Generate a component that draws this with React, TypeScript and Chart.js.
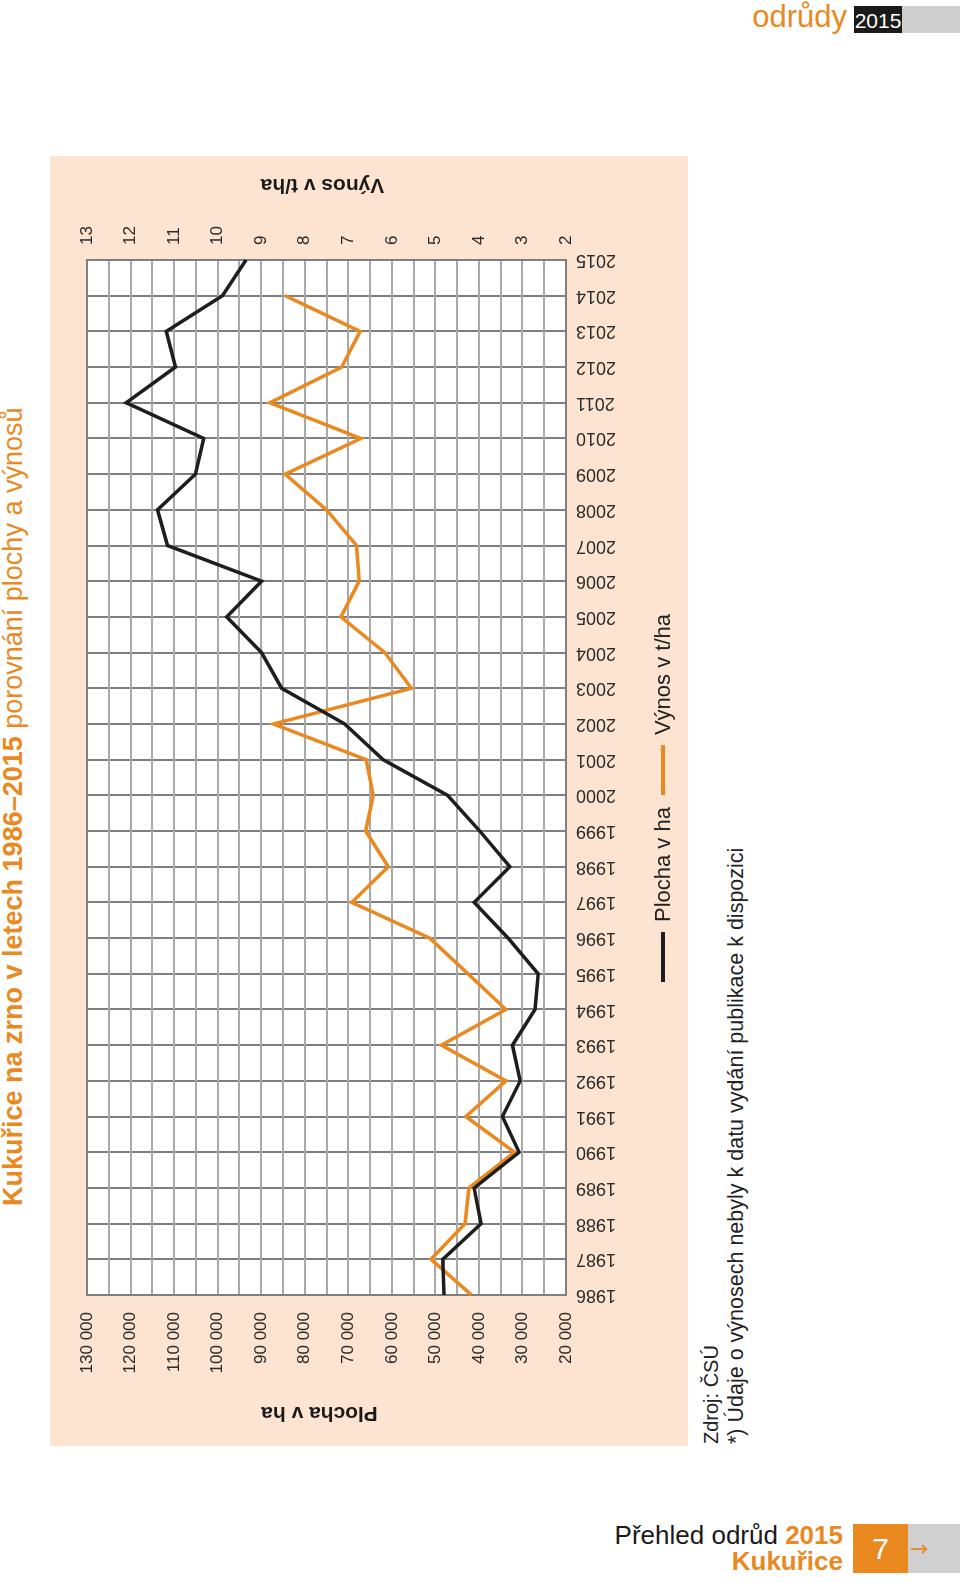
import React, { useEffect, useRef } from "react";
import { Chart, registerables } from "chart.js";

Chart.register(...registerables);

// ---- data ----
const years = [
  "1986", "1987", "1988", "1989", "1990", "1991", "1992", "1993", "1994", "1995",
  "1996", "1997", "1998", "1999", "2000", "2001", "2002", "2003", "2004", "2005",
  "2006", "2007", "2008", "2009", "2010", "2011", "2012", "2013", "2014", "2015",
];

// Plocha v ha (area, hectares)
const plochaHa = [
  48000, 48300, 39500, 41100, 30800, 34600, 30500, 32300, 27100, 26400,
  33300, 41100, 32900, 39800, 47200, 62000, 70800, 85300, 89900, 97900,
  89900, 111500, 113800, 105100, 103200, 121000, 109700, 111800, 98900, 93500,
];

// Výnos v t/ha (yield) – 2015 not available
const vynosTHa: (number | null)[] = [
  4.17, 5.1, 4.32, 4.23, 3.18, 4.3, 3.38, 4.86, 3.38, 4.25,
  5.13, 6.92, 6.08, 6.6, 6.43, 6.59, 8.72, 5.55, 6.16, 7.17,
  6.75, 6.81, 7.5, 8.45, 6.71, 8.8, 7.15, 6.73, 8.45, null,
];

const plochaTickLabels = [
  "20 000", "30 000", "40 000", "50 000", "60 000", "70 000",
  "80 000", "90 000", "100 000", "110 000", "120 000", "130 000",
];
const vynosTickLabels = ["2", "3", "4", "5", "6", "7", "8", "9", "10", "11", "12", "13"];

const seriesLabels = ["Plocha v ha", "Výnos v t/ha"];
const axisTitles = ["Plocha v ha", "Výnos v t/ha"];

// ---- styles ----
const FONT = '"Liberation Sans", Arial, Helvetica, sans-serif';
const ORANGE = "#E9891F";
const BLACK = "#1e1e1e";
const PEACH = "#FDE4D1";
const GRID_LIGHT = "#a9a9a9";
const GRID_DARK = "#7f7f7f";

const CW = 1290; // chart frame width (before rotation)
const CH = 638; // chart frame height

const bgPlugin = {
  id: "bgPlugin",
  beforeDraw(chart: any) {
    const { ctx, chartArea, width, height } = chart;
    ctx.save();
    ctx.fillStyle = PEACH;
    ctx.fillRect(0, 0, width, height);
    ctx.fillStyle = "#ffffff";
    ctx.fillRect(chartArea.left, chartArea.top, chartArea.right - chartArea.left, chartArea.bottom - chartArea.top);
    ctx.restore();
  },
  afterDraw(chart: any) {
    const { ctx, chartArea, width } = chart;
    const midY = (chartArea.top + chartArea.bottom) / 2 - 7;
    ctx.save();
    ctx.fillStyle = "#1a1a1a";
    ctx.font = `bold 21px ${FONT}`;
    ctx.textAlign = "center";
    ctx.textBaseline = "middle";
    // left axis title
    ctx.save();
    ctx.translate(33, midY);
    ctx.rotate(-Math.PI / 2);
    ctx.fillText(axisTitles[0], 0, 0);
    ctx.restore();
    // right axis title (same orientation as in the reference)
    ctx.save();
    ctx.translate(chartArea.right + 75, midY + 3);
    ctx.rotate(-Math.PI / 2);
    ctx.fillText(axisTitles[1], 0, 0);
    ctx.restore();

    // legend
    ctx.font = `22px ${FONT}`;
    ctx.textAlign = "left";
    const lineLen = 50;
    const gap = 10;
    const itemGap = 12;
    const items = chart.data.datasets.map((ds: any) => ({
      label: ds.label as string,
      color: ds.borderColor as string,
      w: ctx.measureText(ds.label).width,
    }));
    const total =
      items.reduce((s: number, it: any) => s + lineLen + gap + it.w, 0) + itemGap * (items.length - 1);
    let x = width / 2 + 3 - total / 2;
    const y = chartArea.bottom + 97;
    for (const it of items) {
      ctx.strokeStyle = it.color;
      ctx.lineWidth = 4;
      ctx.beginPath();
      ctx.moveTo(x, y);
      ctx.lineTo(x + lineLen, y);
      ctx.stroke();
      ctx.fillStyle = "#222";
      ctx.fillText(it.label, x + lineLen + gap, y + 1);
      x += lineLen + gap + it.w + itemGap;
    }
    ctx.restore();
  },
};

function ChartCanvas() {
  const ref = useRef<HTMLCanvasElement | null>(null);
  useEffect(() => {
    if (!ref.current) return;
    const chart = new Chart(ref.current, {
      type: "line",
      data: {
        labels: years,
        datasets: [
          {
            label: seriesLabels[0],
            data: plochaHa,
            borderColor: BLACK,
            backgroundColor: BLACK,
            borderWidth: 3.5,
            pointRadius: 0,
            tension: 0,
            yAxisID: "y",
          },
          {
            label: seriesLabels[1],
            data: vynosTHa,
            borderColor: ORANGE,
            backgroundColor: ORANGE,
            borderWidth: 3.5,
            pointRadius: 0,
            tension: 0,
            yAxisID: "y1",
          },
        ],
      },
      options: {
        responsive: false,
        animation: false,
        devicePixelRatio: 1,
        layout: { padding: { top: 37, left: 0, right: 0, bottom: 0 } },
        plugins: {
          legend: { display: false },
          tooltip: { enabled: false },
          title: { display: false },
        },
        scales: {
          x: {
            type: "category",
            offset: false,
            afterFit: (s: any) => {
              s.height = 122;
            },
            grid: { color: GRID_DARK, lineWidth: 2, drawTicks: false },
            border: { color: GRID_DARK, width: 2 },
            ticks: {
              autoSkip: false,
              minRotation: 90,
              maxRotation: 90,
              padding: 10,
              color: "#2a2a2a",
              font: { family: FONT, size: 18 },
            },
          },
          y: {
            type: "linear",
            position: "left",
            min: 20000,
            max: 130000,
            afterFit: (s: any) => {
              s.width = 151;
            },
            grid: {
              lineWidth: 2,
              drawTicks: false,
              color: (c: any) => (c.tick && c.tick.value === 130000 ? GRID_DARK : GRID_LIGHT),
            },
            border: { color: GRID_DARK, width: 2 },
            ticks: {
              stepSize: 5000,
              autoSkip: false,
              padding: 17,
              color: "#2a2a2a",
              font: { family: FONT, size: 17 },
              callback: (v: any) => {
                const n = Number(v);
                if (n % 10000 !== 0) return "";
                return plochaTickLabels[(n - 20000) / 10000] ?? "";
              },
            },
          },
          y1: {
            type: "linear",
            position: "right",
            min: 2,
            max: 13,
            afterFit: (s: any) => {
              s.width = CW - 1186;
            },
            grid: { display: false, drawTicks: false },
            border: { color: GRID_DARK, width: 2 },
            ticks: {
              stepSize: 0.5,
              autoSkip: false,
              padding: 15,
              color: "#2a2a2a",
              font: { family: FONT, size: 17 },
              callback: (v: any) => {
                const n = Number(v);
                if (!Number.isInteger(n)) return "";
                return vynosTickLabels[n - 2] ?? "";
              },
            },
          },
        },
      },
      plugins: [bgPlugin],
    } as any);
    return () => chart.destroy();
  }, []);
  return (
    <canvas
      ref={ref}
      width={CW}
      height={CH}
      style={{ position: "absolute", left: 0, top: 50, width: CW, height: CH, display: "block" }}
    />
  );
}

export default function App() {
  return (
    <div
      style={{
        position: "absolute",
        left: 0,
        top: 0,
        width: 960,
        height: 1583,
        overflow: "hidden",
        background: "#ffffff",
        fontFamily: FONT,
      }}
    >
      {/* header */}
      <div
        style={{
          position: "absolute",
          right: 113,
          top: 0,
          height: 34,
          lineHeight: "34px",
          fontSize: 31,
          color: ORANGE,
          whiteSpace: "nowrap",
        }}
      >
        odrůdy
      </div>
      <div
        style={{
          position: "absolute",
          left: 854,
          top: 6,
          width: 48,
          height: 27,
          background: "#1a1a1a",
          color: "#fff",
          fontSize: 21,
          lineHeight: "29px",
          textAlign: "center",
        }}
      >
        2015
      </div>
      <div style={{ position: "absolute", left: 902, top: 6, width: 58, height: 27, background: "#cfcfcf" }} />

      {/* rotated block: title, chart, notes */}
      <div
        style={{
          position: "absolute",
          left: 0,
          top: 1446,
          width: CW,
          height: 760,
          transformOrigin: "0 0",
          transform: "rotate(-90deg)",
        }}
      >
        <div
          style={{
            position: "absolute",
            left: 240,
            top: 0,
            fontSize: 27,
            lineHeight: "27px",
            color: ORANGE,
            whiteSpace: "nowrap",
          }}
        >
          <span style={{ fontWeight: "bold" }}>Kukuřice na zrno v letech 1986–2015</span> porovnání plochy a výnosů
        </div>
        <ChartCanvas />
        <div
          style={{
            position: "absolute",
            left: 2,
            top: 699,
            lineHeight: "25px",
            color: "#222",
            whiteSpace: "nowrap",
          }}
        >
          <div style={{ fontSize: 20 }}>Zdroj: ČSÚ</div>
          <div style={{ fontSize: 21.5 }}>*) Údaje o výnosech nebyly k datu vydání publikace k dispozici</div>
        </div>
      </div>

      {/* footer */}
      <div
        style={{
          position: "absolute",
          right: 117,
          top: 1522,
          textAlign: "right",
          fontSize: 26,
          lineHeight: "26px",
          whiteSpace: "nowrap",
        }}
      >
        <div style={{ color: "#1a1a1a" }}>
          Přehled odrůd <span style={{ color: ORANGE, fontWeight: "bold" }}>2015</span>
        </div>
        <div style={{ color: ORANGE, fontWeight: "bold" }}>Kukuřice</div>
      </div>
      <div
        style={{
          position: "absolute",
          left: 853,
          top: 1524,
          width: 55,
          height: 49,
          background: ORANGE,
          color: "#fff",
          fontSize: 30,
          lineHeight: "49px",
          textAlign: "center",
        }}
      >
        7
      </div>
      <div
        style={{
          position: "absolute",
          left: 908,
          top: 1524,
          width: 52,
          height: 49,
          background: "#d0d0d0",
        }}
      >
        <span
          style={{
            position: "absolute",
            left: 2,
            top: 0,
            lineHeight: "49px",
            fontSize: 22,
            color: ORANGE,
            fontFamily: '"DejaVu Sans", sans-serif',
          }}
        >
          →
        </span>
      </div>
    </div>
  );
}
